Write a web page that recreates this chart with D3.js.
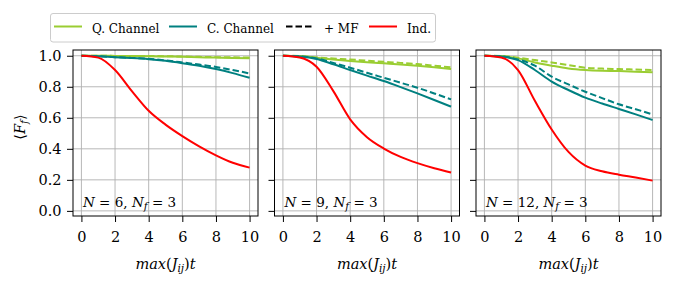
<!DOCTYPE html>
<html><head><meta charset="utf-8">
<script src="https://cdn.jsdelivr.net/npm/d3@7"></script>
<style>body{margin:0;background:#fff}svg text{font-family:"DejaVu Serif","Liberation Serif",serif;}</style>
</head><body><svg id="c" width="674" height="283"></svg>
<script>
const t = [0,1,2,3,4,5,6,7,8,9,10];
const xTicks = [0,2,4,6,8,10];
const yTicks = [0.0,0.2,0.4,0.6,0.8,1.0];
const panelN = [6, 9, 12];
const panelNf = [3, 3, 3];
const legendLabels = ["Q. Channel","C. Channel","+ MF","Ind."];

// Panel N=6
const q6    = [1,1,0.999,0.998,0.997,0.995,0.993,0.99,0.988,0.986,0.984];
const qmf6  = [1,1,0.999,0.999,0.998,0.997,0.995,0.993,0.991,0.99,0.988];
const c6    = [1,0.997,0.99,0.985,0.978,0.967,0.952,0.935,0.914,0.888,0.858];
const cmf6  = [1,0.997,0.991,0.986,0.98,0.97,0.957,0.943,0.928,0.908,0.886];
const ind6  = [1,0.988,0.908,0.772,0.645,0.556,0.482,0.416,0.358,0.31,0.279];
// Panel N=9
const q9    = [1,0.998,0.987,0.976,0.966,0.958,0.951,0.944,0.936,0.926,0.914];
const qmf9  = [1,0.998,0.989,0.982,0.976,0.968,0.961,0.954,0.946,0.936,0.925];
const c9    = [1,0.995,0.979,0.945,0.908,0.872,0.837,0.798,0.757,0.715,0.672];
const cmf9  = [1,0.996,0.983,0.954,0.923,0.89,0.858,0.826,0.794,0.757,0.719];
const ind9  = [1,0.989,0.929,0.772,0.59,0.475,0.402,0.348,0.308,0.275,0.247];
// Panel N=12
const q12   = [1,0.998,0.983,0.957,0.936,0.918,0.908,0.903,0.901,0.897,0.893];
const qmf12 = [1,0.998,0.987,0.972,0.957,0.94,0.923,0.917,0.914,0.911,0.908];
const c12   = [1,0.995,0.972,0.908,0.833,0.779,0.73,0.692,0.657,0.622,0.586];
const cmf12 = [1,0.996,0.976,0.936,0.865,0.815,0.768,0.727,0.687,0.655,0.622];
const ind12 = [1,0.989,0.908,0.71,0.525,0.38,0.292,0.255,0.233,0.215,0.195];

const panels = [
  {q:q6,qmf:qmf6,c:c6,cmf:cmf6,ind:ind6},
  {q:q9,qmf:qmf9,c:c9,cmf:cmf9,ind:ind9},
  {q:q12,qmf:qmf12,c:c12,cmf:cmf12,ind:ind12}
];

const colQ = "#9acd32", colC = "#008080", colI = "#ff0000";
const svg = d3.select("#c");
const fs = 14.5, sub = 10.5;
const lefts = [73, 274.5, 476];
const pw = 185, pTop = 50, ph = 166;

panels.forEach((p, i) => {
  const g = svg.append("g").attr("transform", `translate(${lefts[i]},${pTop})`);
  const x = d3.scaleLinear().domain([-0.5, 10.5]).range([0, pw]);
  const y = d3.scaleLinear().domain([-0.033, 1.037]).range([ph, 0]);
  g.append("g").selectAll("line").data(xTicks).join("line")
    .attr("x1", d => x(d)).attr("x2", d => x(d)).attr("y1", 0).attr("y2", ph)
    .attr("stroke", "#b0b0b0").attr("stroke-width", 0.9);
  g.append("g").selectAll("line").data(yTicks).join("line")
    .attr("y1", d => y(d)).attr("y2", d => y(d)).attr("x1", 0).attr("x2", pw)
    .attr("stroke", "#b0b0b0").attr("stroke-width", 0.9);
  const line = arr => d3.line().x((d, k) => x(t[k])).y(d => y(d)).curve(d3.curveMonotoneX)(arr);
  const series = [
    {d:p.q, c:colQ, dash:null},
    {d:p.qmf, c:colQ, dash:"6.5,3"},
    {d:p.c, c:colC, dash:null},
    {d:p.cmf, c:colC, dash:"6.5,3"},
    {d:p.ind, c:colI, dash:null}
  ];
  series.forEach(s => {
    g.append("path").attr("d", line(s.d)).attr("fill", "none")
      .attr("stroke", s.c).attr("stroke-width", 2).attr("stroke-dasharray", s.dash);
  });
  const xa = g.append("g").attr("transform", `translate(0,${ph})`)
    .call(d3.axisBottom(x).tickValues(xTicks).tickSize(6).tickPadding(10).tickFormat(d3.format("d")));
  const ya = g.append("g").call(d3.axisLeft(y).tickValues(yTicks).tickSize(6).tickPadding(5.5).tickFormat(d3.format(".1f")));
  [xa, ya].forEach(a => {
    a.select(".domain").remove();
    a.selectAll("line").attr("stroke", "#000").attr("stroke-width", 1);
    a.selectAll("text").attr("font-size", fs).attr("fill", "#000").style("font-family", '"DejaVu Serif",serif');
  });
  if (i > 0) ya.selectAll("text").remove();
  g.append("rect").attr("x", 0).attr("y", 0).attr("width", pw).attr("height", ph)
    .attr("fill", "none").attr("stroke", "#000").attr("stroke-width", 1);
  const ann = g.append("text").attr("x", 10).attr("y", 157).attr("font-size", 13.5);
  ann.append("tspan").attr("font-style", "italic").text("N");
  ann.append("tspan").text(` = ${panelN[i]}, `);
  ann.append("tspan").attr("font-style", "italic").text("N");
  ann.append("tspan").attr("font-style", "italic").attr("font-size", sub).attr("dy", 3).text("f");
  ann.append("tspan").attr("dy", -3).text(` = ${panelNf[i]}`);
  const xl = g.append("text").attr("x", pw / 2).attr("y", 219).attr("text-anchor", "middle").attr("font-size", fs);
  xl.append("tspan").attr("font-style", "italic").text("max");
  xl.append("tspan").text("(");
  xl.append("tspan").attr("font-style", "italic").text("J");
  xl.append("tspan").attr("font-style", "italic").attr("font-size", sub).attr("dy", 3).text("ij");
  xl.append("tspan").attr("dy", -3).text(")");
  xl.append("tspan").attr("font-style", "italic").text("t");
});

const yl = svg.append("text").attr("transform", "translate(25,127) rotate(-90)")
  .attr("text-anchor", "middle").attr("font-size", fs);
yl.append("tspan").text("⟨");
yl.append("tspan").attr("font-style", "italic").text("F");
yl.append("tspan").attr("font-style", "italic").attr("font-size", sub).attr("dy", 3).text("f");
yl.append("tspan").attr("dy", -3).text("⟩");

const lg = svg.append("g");
lg.append("rect").attr("x", 50.5).attr("y", 13.5).attr("width", 385).attr("height", 28.5)
  .attr("rx", 2.5).attr("fill", "#fff").attr("fill-opacity", 0.8).attr("stroke", "#cccccc").attr("stroke-width", 1);
const legCols = [colQ, colC, "#000", colI];
const legDash = [null, null, "6.5,3", null];
const legX = [54, 169, 286, 369];
legendLabels.forEach((l, k) => {
  lg.append("line").attr("x1", legX[k]).attr("x2", legX[k] + 28).attr("y1", 26.5).attr("y2", 26.5)
    .attr("stroke", legCols[k]).attr("stroke-width", 2).attr("stroke-dasharray", legDash[k]);
  lg.append("text").attr("x", legX[k] + 38).attr("y", 32.5).attr("font-size", 12)
    .style("font-family", '"DejaVu Serif",serif').text(l);
});
</script></body></html>
